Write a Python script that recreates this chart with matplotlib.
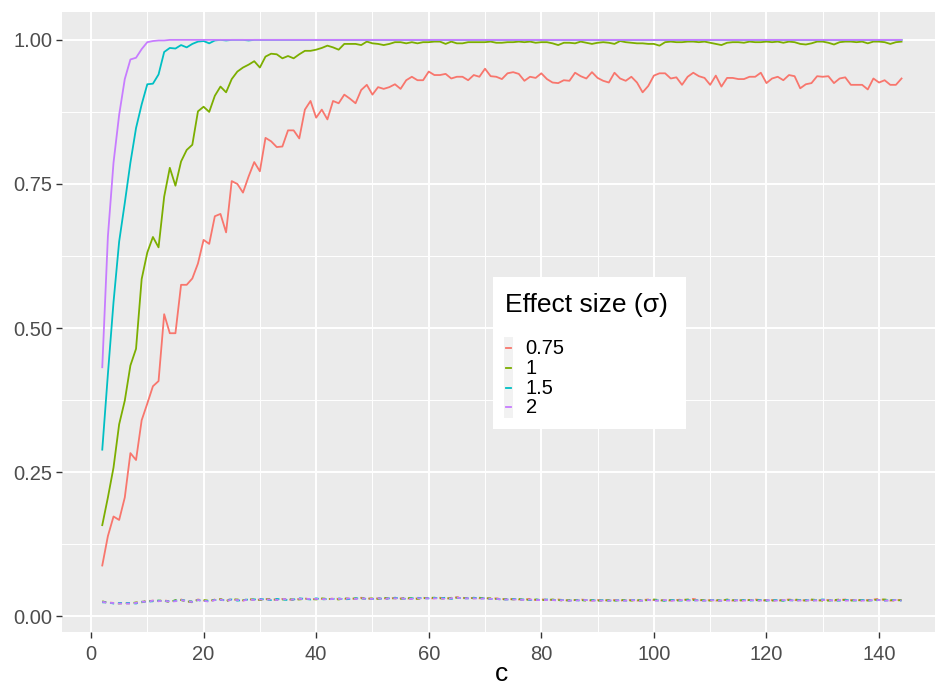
import numpy as np
import matplotlib
matplotlib.use('Agg')
from matplotlib import pyplot as plt
from matplotlib.lines import Line2D
from matplotlib.patches import Rectangle
from matplotlib.ticker import MultipleLocator

plt.rcParams['font.family'] = ['Liberation Sans', 'DejaVu Sans']

# c = 2..144
c_values = np.arange(2, 145)

effect_sizes = ['0.75', '1', '1.5', '2']
colors = ['#F8766D', '#7CAE00', '#00BFC4', '#C77CFF']

# power (solid lines)
power_075 = [
    0.088, 0.139, 0.173, 0.167, 0.206, 0.283, 0.271, 0.340, 0.369, 0.399,
    0.408, 0.524, 0.491, 0.491, 0.575, 0.575, 0.586, 0.612, 0.653, 0.646,
    0.694, 0.698, 0.666, 0.755, 0.750, 0.735, 0.763, 0.788, 0.772, 0.830,
    0.824, 0.814, 0.815, 0.843, 0.843, 0.829, 0.879, 0.894, 0.865, 0.879,
    0.862, 0.894, 0.890, 0.905, 0.898, 0.890, 0.913, 0.922, 0.905, 0.918,
    0.915, 0.918, 0.923, 0.915, 0.930, 0.936, 0.930, 0.930, 0.945, 0.939,
    0.939, 0.941, 0.933, 0.936, 0.936, 0.930, 0.939, 0.936, 0.950,
    0.937, 0.936, 0.932, 0.942, 0.944, 0.941, 0.929, 0.936, 0.934, 0.942,
    0.932, 0.926, 0.925, 0.930, 0.929, 0.943, 0.937, 0.933, 0.944, 0.934,
    0.929, 0.926, 0.943, 0.933, 0.929, 0.936, 0.926, 0.909, 0.920, 0.938,
    0.942, 0.942, 0.933, 0.935, 0.922, 0.936, 0.943, 0.937,
    0.934, 0.922, 0.938, 0.919, 0.934, 0.934, 0.932, 0.932, 0.936, 0.936,
    0.943, 0.925, 0.933, 0.936, 0.930, 0.939, 0.937, 0.916, 0.923, 0.925,
    0.937, 0.936, 0.937, 0.925, 0.933, 0.935, 0.922, 0.922, 0.922, 0.914,
    0.933, 0.926, 0.930, 0.922, 0.922, 0.933,
]
power_1 = [
    0.158, 0.206, 0.258, 0.333, 0.374, 0.435, 0.464, 0.585, 0.631, 0.658,
    0.640, 0.728, 0.778, 0.747, 0.789, 0.809, 0.818, 0.876, 0.884, 0.875,
    0.903, 0.919, 0.909, 0.932, 0.945, 0.952, 0.957, 0.963, 0.952, 0.971,
    0.976, 0.975, 0.968, 0.972, 0.968, 0.975, 0.981, 0.981, 0.983, 0.986,
    0.990, 0.987, 0.983, 0.993, 0.993, 0.993, 0.991, 0.997, 0.994, 0.993,
    0.991, 0.993, 0.996, 0.996, 0.994, 0.996, 0.994, 0.996, 0.996, 0.997,
    0.997, 0.993, 0.997, 0.994, 0.994, 0.996, 0.996, 0.996, 0.996,
    0.997, 0.995, 0.995, 0.996, 0.996, 0.997, 0.996, 0.997, 0.995, 0.996,
    0.996, 0.994, 0.991, 0.995, 0.995, 0.994, 0.997, 0.995, 0.993, 0.995,
    0.996, 0.995, 0.993, 0.998, 0.996, 0.995, 0.994, 0.994, 0.993, 0.993,
    0.990, 0.996, 0.997, 0.996, 0.996, 0.997, 0.997, 0.996,
    0.997, 0.995, 0.993, 0.991, 0.995, 0.996, 0.996, 0.995, 0.997, 0.996,
    0.996, 0.997, 0.996, 0.997, 0.995, 0.997, 0.996, 0.993, 0.992, 0.994,
    0.997, 0.997, 0.995, 0.992, 0.996, 0.997, 0.997, 0.996, 0.997, 0.994,
    0.997, 0.997, 0.996, 0.993, 0.996, 0.997,
]
power_15 = [
    0.289, 0.420, 0.545, 0.650, 0.717, 0.787, 0.847, 0.888, 0.923, 0.924,
    0.940, 0.979, 0.986, 0.985, 0.991, 0.987, 0.993, 0.997, 0.998, 0.994,
    0.999, 1.0, 0.999, 1.0, 1.0, 1.0, 0.999, 1.0, 1.0, 1.0,
] + [1.0] * 113
power_2 = [
    0.432, 0.659, 0.787, 0.870, 0.932, 0.966, 0.969, 0.984, 0.996, 0.998,
    0.999, 0.999,
] + [1.0] * 131

# type I error (dashed lines)
err_075 = [
    0.025, 0.024, 0.023, 0.023, 0.022, 0.023, 0.023, 0.025, 0.026,
    0.027, 0.026, 0.028, 0.025, 0.027, 0.029, 0.026, 0.024, 0.029, 0.027,
    0.026, 0.029, 0.029, 0.027, 0.030, 0.028, 0.027, 0.030, 0.028, 0.029,
    0.030, 0.029, 0.029, 0.030, 0.029, 0.028, 0.030, 0.031, 0.029, 0.030,
    0.030, 0.029, 0.031, 0.030, 0.030, 0.031, 0.030, 0.032, 0.031, 0.030,
    0.031, 0.031, 0.030, 0.032, 0.031, 0.031, 0.030, 0.031, 0.032, 0.031,
    0.031, 0.032, 0.031, 0.031, 0.033, 0.032, 0.031, 0.032, 0.031, 0.032,
    0.030, 0.031, 0.030, 0.029, 0.030, 0.029, 0.029, 0.030, 0.028, 0.029,
    0.029, 0.028, 0.029, 0.028, 0.027, 0.028, 0.029, 0.028, 0.027, 0.028,
    0.028, 0.027, 0.028, 0.027, 0.028, 0.028, 0.027, 0.028, 0.029, 0.028,
    0.027, 0.028, 0.027, 0.028, 0.029, 0.028, 0.030, 0.028, 0.027, 0.028,
    0.027, 0.028, 0.028, 0.027, 0.028, 0.027, 0.028, 0.029, 0.028, 0.027,
    0.028, 0.027, 0.028, 0.029, 0.028, 0.027, 0.028, 0.028, 0.027, 0.028,
    0.028, 0.027, 0.028, 0.029, 0.028, 0.028, 0.027, 0.028, 0.029, 0.030,
    0.028, 0.027, 0.028, 0.028,
]
err_1 = [
    0.026, 0.023, 0.023, 0.022, 0.023, 0.022, 0.024, 0.024, 0.027,
    0.026, 0.027, 0.027, 0.024, 0.028, 0.028, 0.025, 0.026, 0.028, 0.028,
    0.027, 0.028, 0.030, 0.026, 0.029, 0.029, 0.028, 0.029, 0.029, 0.028,
    0.029, 0.030, 0.028, 0.029, 0.030, 0.029, 0.029, 0.030, 0.030, 0.029,
    0.031, 0.030, 0.030, 0.029, 0.031, 0.030, 0.031, 0.031, 0.030, 0.031,
    0.030, 0.032, 0.031, 0.031, 0.030, 0.032, 0.031, 0.030, 0.031, 0.032,
    0.032, 0.031, 0.030, 0.032, 0.032, 0.031, 0.032, 0.031, 0.032, 0.031,
    0.031, 0.030, 0.029, 0.030, 0.029, 0.030, 0.028, 0.029, 0.029, 0.028,
    0.028, 0.029, 0.028, 0.027, 0.028, 0.028, 0.028, 0.027, 0.028, 0.027,
    0.027, 0.028, 0.027, 0.028, 0.028, 0.027, 0.028, 0.027, 0.028, 0.029,
    0.028, 0.027, 0.028, 0.027, 0.028, 0.029, 0.028, 0.028, 0.028, 0.027,
    0.028, 0.027, 0.029, 0.028, 0.027, 0.028, 0.028, 0.028, 0.027, 0.028,
    0.027, 0.028, 0.027, 0.028, 0.029, 0.028, 0.027, 0.029, 0.028, 0.027,
    0.027, 0.028, 0.029, 0.028, 0.027, 0.028, 0.028, 0.027, 0.028, 0.029,
    0.029, 0.028, 0.027, 0.028,
]
err_15 = [
    0.024, 0.024, 0.022, 0.023, 0.023, 0.023, 0.022, 0.025, 0.025,
    0.026, 0.027, 0.026, 0.026, 0.027, 0.028, 0.027, 0.025, 0.028, 0.026,
    0.027, 0.028, 0.028, 0.028, 0.029, 0.027, 0.028, 0.029, 0.029, 0.030,
    0.029, 0.028, 0.030, 0.029, 0.028, 0.029, 0.031, 0.030, 0.029, 0.031,
    0.029, 0.030, 0.030, 0.031, 0.029, 0.030, 0.031, 0.031, 0.030, 0.030,
    0.031, 0.030, 0.031, 0.032, 0.031, 0.030, 0.031, 0.032, 0.031, 0.031,
    0.032, 0.031, 0.032, 0.030, 0.032, 0.031, 0.031, 0.032, 0.031, 0.031,
    0.030, 0.030, 0.029, 0.029, 0.030, 0.029, 0.029, 0.028, 0.029, 0.028,
    0.029, 0.028, 0.028, 0.028, 0.027, 0.028, 0.027, 0.028, 0.028, 0.027,
    0.028, 0.027, 0.027, 0.028, 0.027, 0.028, 0.028, 0.027, 0.028, 0.028,
    0.027, 0.027, 0.028, 0.028, 0.027, 0.028, 0.027, 0.028, 0.027, 0.028,
    0.028, 0.027, 0.028, 0.027, 0.028, 0.028, 0.027, 0.028, 0.028, 0.027,
    0.028, 0.028, 0.027, 0.028, 0.027, 0.028, 0.028, 0.027, 0.028, 0.029,
    0.028, 0.027, 0.027, 0.028, 0.028, 0.027, 0.028, 0.028, 0.027, 0.028,
    0.027, 0.028, 0.028, 0.027,
]
err_2 = [
    0.025, 0.023, 0.023, 0.022, 0.022, 0.022, 0.023, 0.025, 0.025,
    0.027, 0.026, 0.027, 0.025, 0.026, 0.028, 0.026, 0.025, 0.028, 0.027,
    0.025, 0.028, 0.029, 0.026, 0.029, 0.028, 0.027, 0.029, 0.028, 0.029,
    0.029, 0.029, 0.028, 0.030, 0.029, 0.029, 0.030, 0.030, 0.030, 0.030,
    0.030, 0.029, 0.030, 0.030, 0.030, 0.031, 0.030, 0.031, 0.030, 0.030,
    0.031, 0.030, 0.031, 0.031, 0.031, 0.030, 0.030, 0.031, 0.031, 0.031,
    0.031, 0.031, 0.030, 0.031, 0.032, 0.031, 0.031, 0.031, 0.030, 0.031,
    0.030, 0.030, 0.029, 0.029, 0.029, 0.029, 0.028, 0.029, 0.028, 0.028,
    0.028, 0.028, 0.027, 0.028, 0.027, 0.027, 0.028, 0.028, 0.027, 0.027,
    0.027, 0.027, 0.028, 0.027, 0.027, 0.028, 0.027, 0.027, 0.028, 0.027,
    0.027, 0.028, 0.027, 0.027, 0.028, 0.027, 0.028, 0.027, 0.027, 0.028,
    0.027, 0.027, 0.027, 0.028, 0.027, 0.027, 0.028, 0.027, 0.027, 0.028,
    0.027, 0.027, 0.028, 0.027, 0.028, 0.027, 0.027, 0.028, 0.027, 0.028,
    0.028, 0.027, 0.028, 0.027, 0.027, 0.028, 0.027, 0.027, 0.028, 0.028,
    0.027, 0.027, 0.028, 0.027,
]

power = [power_075, power_1, power_15, power_2]
errors = [err_075, err_1, err_15, err_2]

W, H = 935, 688
fig = plt.figure(figsize=(W / 100, H / 100), dpi=100)
fig.set_facecolor('white')

# panel in pixels: left 62.3, right 941.5 (runs past the right edge), top 11.7, bottom 631.7
ax = fig.add_axes([62.3 / W, (H - 631.7) / H, (941.5 - 62.3) / W, (631.7 - 11.7) / H])
ax.set_facecolor('#EBEBEB')

for vals, col in zip(power, colors):
    ax.plot(c_values, vals, color=col, lw=1.3, solid_joinstyle='round')
for vals, col in zip(errors, colors):
    ax.plot(c_values, vals, color=col, lw=1.3, linestyle=(0, (2.2, 2.2)))

ax.set_xlim(2 - 0.05 * 142, 144 + 0.05 * 142)
ax.set_ylim(0.022 - 0.05 * 0.978, 1.0 + 0.05 * 0.978)

ax.xaxis.set_major_locator(MultipleLocator(20))
ax.xaxis.set_minor_locator(MultipleLocator(10))
ax.yaxis.set_major_locator(MultipleLocator(0.25))
ax.yaxis.set_minor_locator(MultipleLocator(0.125))
ax.set_yticks([0, 0.25, 0.5, 0.75, 1.0])
ax.set_yticklabels(['0.00', '0.25', '0.50', '0.75', '1.00'])

ax.grid(True, which='major', color='white', lw=1.4)
ax.grid(True, which='minor', color='white', lw=0.7)
ax.set_axisbelow(True)
for s in ax.spines.values():
    s.set_visible(False)

ax.tick_params(which='major', length=4, width=1.0, color='#333333',
               labelsize=14.5, labelcolor='#4D4D4D', pad=3)
ax.tick_params(axis='x', which='major', pad=5.5)
ax.tick_params(which='minor', length=0)

ax.set_xlabel('c', fontsize=19, color='black')
ax.xaxis.set_label_coords(0.5, (631.7 - 681) / 620)
ax.xaxis.label.set_va('baseline')

# legend box drawn in pixel positions
def px(x, y):
    return x / W, 1 - y / H

x0, y0 = px(492.7, 428.7)
x1, y1 = px(686, 276.7)
fig.add_artist(Rectangle((x0, y0), x1 - x0, y1 - y0, transform=fig.transFigure,
                         facecolor='white', edgecolor='none', zorder=5))
kx0, ky0 = px(504, 418.3)
kx1, ky1 = px(512.7, 336.7)
fig.add_artist(Rectangle((kx0, ky0), kx1 - kx0, ky1 - ky0, transform=fig.transFigure,
                         facecolor='#F2F2F2', edgecolor='none', zorder=6))
tx, ty = px(505, 305)
fig.text(tx, ty, 'Effect size (σ)', fontsize=19, ha='left', va='center', zorder=7)

entry_y = [348.3, 367.7, 387.7, 407.3]
for lab, col, ey in zip(effect_sizes, colors, entry_y):
    lx0, ly = px(505.5, ey)
    lx1, _ = px(511.2, ey)
    fig.add_artist(Line2D([lx0, lx1], [ly, ly], transform=fig.transFigure,
                          color=col, lw=1.3, zorder=7))
    lx, lyt = px(525.7, ey + 0.5)
    fig.text(lx, lyt, lab, fontsize=14.5, ha='left', va='center', zorder=7)

plt.savefig('out.png', dpi=100)
